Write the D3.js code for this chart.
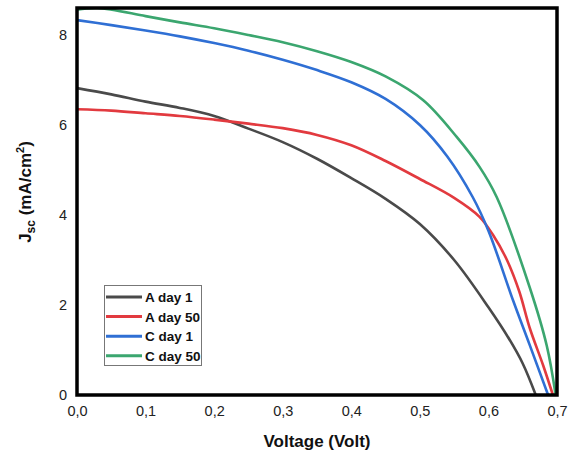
<!DOCTYPE html>
<html>
<head>
<meta charset="utf-8">
<script src="https://cdn.jsdelivr.net/npm/d3@7"></script>
<style>
  body { margin: 0; background: #fff; }
  text { font-family: "Liberation Sans", Arial, sans-serif; }
</style>
</head>
<body>
<svg id="chart" width="574" height="454"></svg>
<script>
// 凡例の名前と色
var seriesNames = ["A day 1", "A day 50", "C day 1", "C day 50"];
var seriesColors = ["#4a4a4a", "#e23a3f", "#2f6fd4", "#3ba66f"];

// 各曲線の電圧 (V) と電流密度 (mA/cm2)
var voltageA1 = [0, 0.05, 0.1, 0.15, 0.2, 0.25, 0.3, 0.35, 0.4, 0.45, 0.5, 0.55, 0.6, 0.63, 0.65, 0.669];
var jscA1 = [6.82, 6.68, 6.52, 6.38, 6.2, 5.92, 5.62, 5.25, 4.82, 4.36, 3.8, 3.0, 1.95, 1.25, 0.7, 0];

var voltageA50 = [0, 0.05, 0.1, 0.15, 0.2, 0.25, 0.3, 0.35, 0.4, 0.45, 0.5, 0.55, 0.587, 0.607, 0.627, 0.645, 0.66, 0.68, 0.694];
var jscA50 = [6.35, 6.32, 6.26, 6.2, 6.12, 6.03, 5.93, 5.78, 5.55, 5.2, 4.8, 4.38, 3.96, 3.55, 3.0, 2.3, 1.5, 0.65, 0];

var voltageC1 = [0, 0.05, 0.1, 0.15, 0.2, 0.25, 0.3, 0.35, 0.4, 0.45, 0.5, 0.54, 0.577, 0.6, 0.636, 0.66, 0.687];
var jscC1 = [8.33, 8.22, 8.1, 7.97, 7.82, 7.65, 7.45, 7.22, 6.95, 6.58, 6.0, 5.3, 4.4, 3.65, 2.1, 1.12, 0];

var voltageC50 = [0, 0.03, 0.1, 0.15, 0.2, 0.25, 0.3, 0.35, 0.4, 0.45, 0.505, 0.554, 0.587, 0.612, 0.66, 0.685, 0.698];
var jscC50 = [8.56, 8.6, 8.42, 8.28, 8.15, 8.0, 7.84, 7.64, 7.4, 7.08, 6.55, 5.73, 5.07, 4.4, 2.4, 1.1, 0];

var xTicks = [0, 0.1, 0.2, 0.3, 0.4, 0.5, 0.6, 0.7];
var yTicks = [0, 2, 4, 6, 8];

var seriesVoltage = [voltageA1, voltageA50, voltageC1, voltageC50];
var seriesJsc = [jscA1, jscA50, jscC1, jscC50];

var svg = d3.select("#chart");
var plotLeft = 77, plotRight = 557, plotTop = 8, plotBottom = 395;

var x = d3.scaleLinear().domain([0, 0.7]).range([plotLeft, plotRight]);
var y = d3.scaleLinear().domain([0, 8.6]).range([plotBottom, plotTop]);
var commaFormat = function (v) { return d3.format(".1f")(v).replace(".", ","); };

// 曲線
svg.append("clipPath").attr("id", "plotClip")
  .append("rect").attr("x", plotLeft).attr("y", plotTop)
  .attr("width", plotRight - plotLeft).attr("height", plotBottom - plotTop);

var line = d3.line()
  .x(function (d) { return x(d[0]); })
  .y(function (d) { return y(d[1]); })
  .curve(d3.curveCatmullRom.alpha(0.5));

var seriesData = seriesNames.map(function (name, i) {
  return seriesVoltage[i].map(function (v, j) { return [v, seriesJsc[i][j]]; });
});

svg.append("g").attr("clip-path", "url(#plotClip)")
  .selectAll("path").data(seriesData).enter().append("path")
  .attr("d", line)
  .attr("fill", "none")
  .attr("stroke", function (d, i) { return seriesColors[i]; })
  .attr("stroke-width", 2.6)
  .attr("stroke-linejoin", "round");

// 軸 (目盛り線なし)
var xAxis = d3.axisBottom(x).tickValues(xTicks).tickSize(0).tickPadding(11).tickFormat(commaFormat);
var yAxis = d3.axisLeft(y).tickValues(yTicks).tickSize(0).tickPadding(10).tickFormat(d3.format("d"));

var gx = svg.append("g").attr("transform", "translate(0," + plotBottom + ")").call(xAxis);
var gy = svg.append("g").attr("transform", "translate(" + plotLeft + ",0)").call(yAxis);
[gx, gy].forEach(function (g) {
  g.select(".domain").remove();
  g.selectAll("text").attr("font-size", 14.5).attr("fill", "#222")
    .style("font-family", "'Liberation Sans', Arial, sans-serif");
});

// 枠
svg.append("rect")
  .attr("x", plotLeft).attr("y", plotTop)
  .attr("width", plotRight - plotLeft).attr("height", plotBottom - plotTop)
  .attr("fill", "none").attr("stroke", "#000").attr("stroke-width", 3.5);

// 軸タイトル
svg.append("text")
  .attr("x", (plotLeft + plotRight) / 2).attr("y", 447)
  .attr("text-anchor", "middle")
  .attr("font-size", 17).attr("font-weight", "bold").attr("fill", "#111")
  .text("Voltage (Volt)");

var yTitle = svg.append("text")
  .attr("transform", "translate(31,192) rotate(-90)")
  .attr("text-anchor", "middle")
  .attr("font-size", 17).attr("font-weight", "bold").attr("fill", "#111");
yTitle.append("tspan").text("J");
yTitle.append("tspan").attr("font-size", 12).attr("dy", 4).text("sc");
yTitle.append("tspan").attr("dy", -4).text(" (mA/cm");
yTitle.append("tspan").attr("font-size", 11).attr("dy", -7).text("2");
yTitle.append("tspan").attr("dy", 7).text(")");

// 凡例
var legend = svg.append("g");
legend.append("rect")
  .attr("x", 104.5).attr("y", 285.5).attr("width", 97).attr("height", 80)
  .attr("fill", "#fff").attr("stroke", "#777").attr("stroke-width", 1);

var rows = legend.selectAll("g.row").data(seriesNames).enter().append("g")
  .attr("transform", function (d, i) { return "translate(0," + (297 + i * 19.6) + ")"; });
rows.append("line")
  .attr("x1", 106).attr("x2", 142).attr("y1", 0).attr("y2", 0)
  .attr("stroke", function (d, i) { return seriesColors[i]; })
  .attr("stroke-width", 3);
rows.append("text")
  .attr("x", 145).attr("y", 5)
  .attr("font-size", 13.5).attr("font-weight", "bold").attr("fill", "#111")
  .text(function (d) { return d; });
</script>
</body>
</html>
